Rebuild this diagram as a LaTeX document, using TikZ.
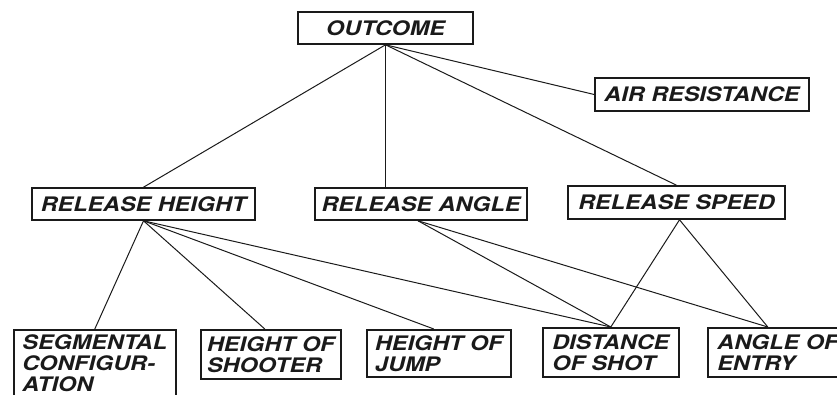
\documentclass[tikz,border=0pt]{standalone}
\usepackage{fontspec}
\setmainfont{TeX Gyre Heros}[FakeStretch=1.17]
\usetikzlibrary{positioning, calc}
\definecolor{ink}{HTML}{1A1A1A}

\begin{document}
\begin{tikzpicture}[x=1pt, y=-1pt,
  box/.style={draw=ink, line width=1.6pt, fill=white, text=ink,
    font=\fontsize{20}{21}\selectfont\bfseries\itshape, inner sep=0pt},
  topbox/.style={box, minimum height=32pt},
  lowbox/.style={box, anchor=north west, align=left, minimum height=49pt},
  link/.style={ink, line width=1pt}]

% Frame
\useasboundingbox (0,0) rectangle (837,394);

% Top level
\node[topbox, minimum width=175pt] (outcome) at (385.5,28) {OUTCOME};
\node[topbox, minimum width=214pt, minimum height=33pt] (air) at (702,94.5) {AIR RESISTANCE};

% Release factors
\node[topbox, minimum width=223pt] (height) at (143.5,204) {RELEASE HEIGHT};
\node[topbox, minimum width=212pt] (angle) at (421,204) {RELEASE ANGLE};
\node[topbox, minimum width=217pt, minimum height=33pt] (speed) at (676.5,202.5) {RELEASE SPEED};

% Underlying factors
\node[lowbox, minimum width=162pt, minimum height=67pt] (segment) at (13,329) {SEGMENTAL\\CONFIGUR-\\ATION};
\node[lowbox, minimum width=140pt] (shooter) at (200,329) {HEIGHT OF\\SHOOTER};
\node[lowbox, minimum width=144pt, minimum height=47pt] (jump) at (366,329) {HEIGHT OF\\JUMP};
\node[lowbox, minimum width=136pt] (distance) at (542,327) {DISTANCE\\OF SHOT};
\node[lowbox, minimum width=140pt] (entry) at (707,327) {ANGLE OF\\ENTRY};

% Outcome links
\draw[link] (outcome.south) -- (height.north);
\draw[link] (outcome.south) -- (outcome.south |- angle.north);
\draw[link] (outcome.south) -- (speed.north);
\draw[link] (outcome.south) -- (air.west);

% Release height links
\draw[link] (height.south) -- (segment.north);
\draw[link] (height.south) -- ([xshift=-6pt]shooter.north);
\draw[link] (height.south) -- ([xshift=-5pt]jump.north);
\draw[link] (height.south) -- (distance.north);

% Release angle and speed links
\draw[link] ([xshift=-3pt]angle.south) -- (distance.north);
\draw[link] ([xshift=-3pt]angle.south) -- ([xshift=-10pt]entry.north);
\draw[link] ([xshift=3pt]speed.south) -- (distance.north);
\draw[link] ([xshift=3pt]speed.south) -- ([xshift=-10pt]entry.north);

\end{tikzpicture}
\end{document}
